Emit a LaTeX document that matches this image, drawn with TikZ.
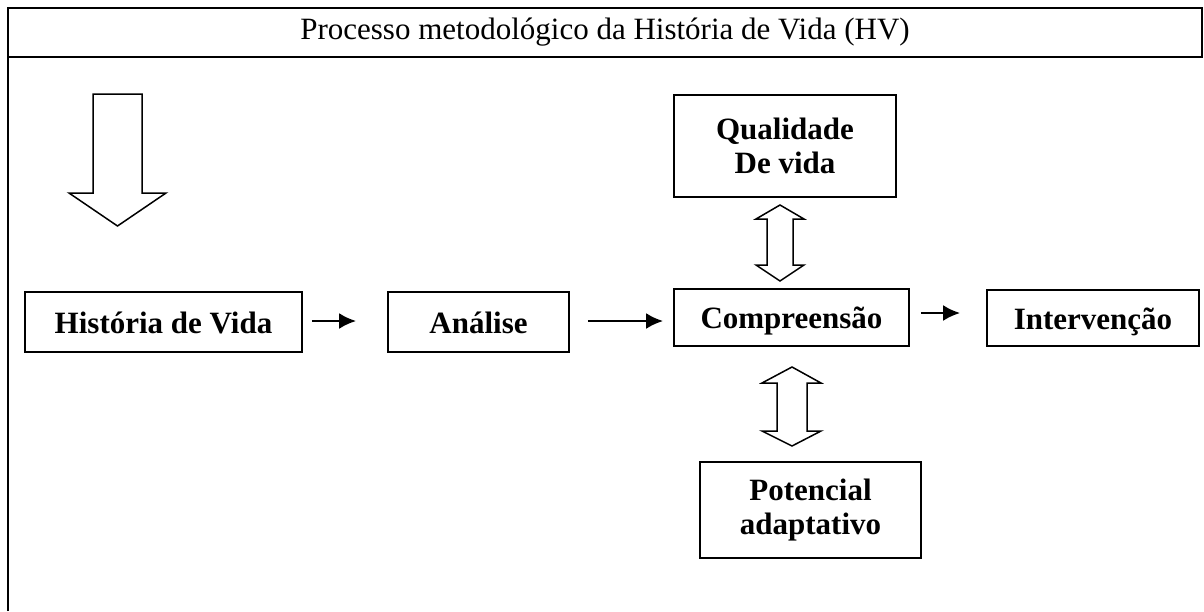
\documentclass[tikz,border=0pt]{standalone}
\usepackage{fontspec}
\setmainfont{Liberation Serif}
\usetikzlibrary{arrows.meta}
\begin{document}
\begin{tikzpicture}[x=1pt,y=-1pt,
  box/.style={draw, line width=1.8pt, font=\fontsize{31}{34}\selectfont\bfseries, align=center, inner sep=0pt},
  onebox/.style={box, text height=22pt, text depth=0pt},
  conn/.style={line width=2.4pt, -{Latex[length=17pt,width=16pt]}},
  blockarrow/.style={draw, line width=1.5pt, fill=white, line join=miter},
  frame/.style={line width=2.7pt, line join=miter}]
\useasboundingbox (0,0) rectangle (1204,611);
% outer frame
\draw[frame] (8,611) -- (8,8) -- (1202,8) -- (1202,57) -- (8,57);
\node[font=\fontsize{31}{35}\selectfont, inner sep=0pt] (title) at (605,32) {Processo metodológico da História de Vida (HV)};
% big down arrow
\draw[blockarrow] (93,94) -- (142,94) -- (142,193) -- (166,193) -- (117.5,226) -- (69,193) -- (93,193) -- cycle;
% boxes
\node[onebox, minimum width=277pt, minimum height=60pt] (hist) at (163.5,322) {História de Vida};
\node[onebox, minimum width=181pt, minimum height=60pt] (anal) at (478.5,322) {Análise};
\node[onebox, minimum width=235pt, minimum height=57pt] (comp) at (791.5,317.5) {Compreensão};
\node[onebox, minimum width=212pt, minimum height=56pt] (inter) at (1093,318) {Intervenção};
\node[box, minimum width=222pt, minimum height=102pt] (qual) at (785,146) {Qualidade\\De vida};
\node[box, minimum width=221pt, minimum height=96pt] (pot) at (810.5,510) {Potencial\\adaptativo};
% thin arrows
\draw[conn, shorten <=9pt, shorten >=31pt] ([yshift=1pt]hist.east) -- ([yshift=1pt]anal.west);
\draw[conn, shorten <=18pt, shorten >=10pt] ([yshift=1pt]anal.east) -- ([yshift=1pt]anal.east -| comp.west);
\draw[conn, shorten <=11pt, shorten >=26pt] ([yshift=4.5pt]comp.east) -- ([yshift=4.5pt]comp.east -| inter.west);
% double block arrows
\draw[blockarrow] (780,205) -- (804,219) -- (793,219) -- (793,265) -- (804,265) -- (780,281) -- (756,265) -- (767,265) -- (767,219) -- (756,219) -- cycle;
\draw[blockarrow] (792,367) -- (821,383) -- (807,383) -- (807,431) -- (821,431) -- (792,446) -- (762,431) -- (777,431) -- (777,383) -- (762,383) -- cycle;
\end{tikzpicture}
\end{document}
